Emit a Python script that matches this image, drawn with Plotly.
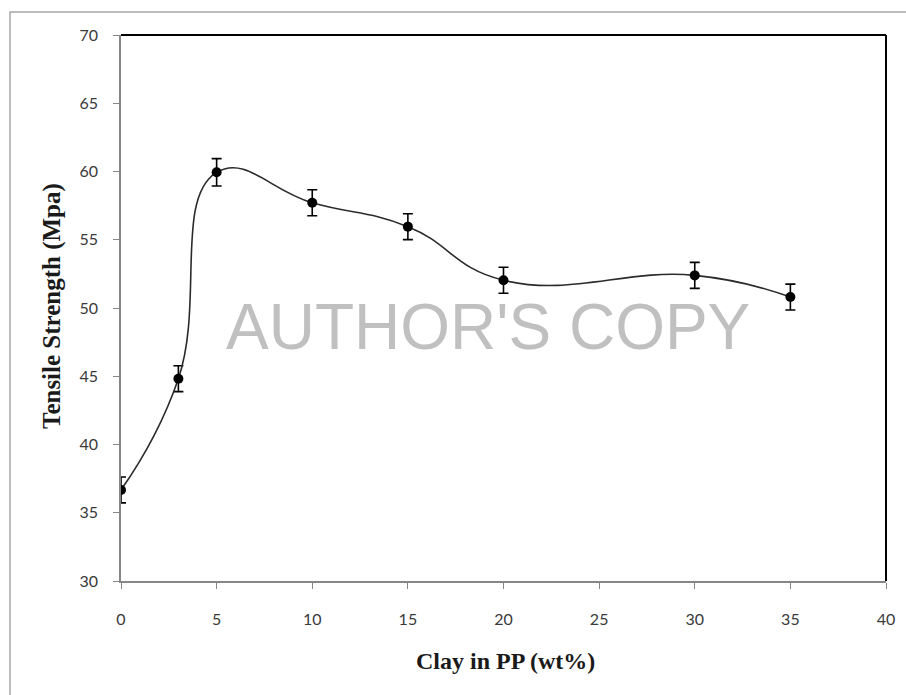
import plotly.graph_objects as go

clay_wt = [0, 3, 5, 10, 15, 20, 30, 35]
tensile_mpa = [36.67, 44.82, 59.94, 57.71, 55.96, 52.03, 52.39, 50.80]
tensile_err = [0.95, 0.95, 1.0, 0.95, 0.95, 0.95, 0.95, 0.95]

x_ticks = [0, 5, 10, 15, 20, 25, 30, 35, 40]
y_ticks = [30, 35, 40, 45, 50, 55, 60, 65, 70]

W, H = 906, 695
L, R, T, B = 121, 886, 35, 581

def px(x):
    return (x - L) / (R - L)

def py(y):
    return (B - y) / (B - T)

fig = go.Figure()
fig.add_trace(go.Scatter(
    x=clay_wt, y=tensile_mpa,
    mode="lines+markers",
    line=dict(color="#2b2b2b", width=1.6, shape="spline", smoothing=1.3),
    marker=dict(color="black", size=10),
    error_y=dict(type="data", array=tensile_err, visible=True,
                 color="black", thickness=1.6, width=5),
    showlegend=False,
))

tickfont = dict(family="Lato, Carlito, Open Sans, sans-serif", size=16, color="#3a3a3a")
fig.update_xaxes(range=[0, 40], tickvals=x_ticks, ticktext=[str(v) for v in x_ticks],
                 showgrid=False, zeroline=False, showline=True, linecolor="#868686", linewidth=1.5,
                 ticks="outside", ticklen=6, tickcolor="#868686", tickwidth=1.2,
                 tickfont=tickfont, ticklabelstandoff=17)
fig.update_yaxes(range=[30, 70], tickvals=y_ticks, ticktext=[str(v) for v in y_ticks],
                 showgrid=False, zeroline=False, showline=True, linecolor="#868686", linewidth=1.5,
                 ticks="outside", ticklen=6, tickcolor="#868686", tickwidth=1.2,
                 tickfont=tickfont, ticklabelstandoff=12)

shapes = [
    # outer frame
    dict(type="rect", xref="paper", yref="paper",
         x0=px(10), x1=px(915), y0=py(720), y1=py(12),
         line=dict(color="#a6a6a6", width=1.5), layer="below"),
    # top and right plot border (black)
    dict(type="line", xref="paper", yref="paper", x0=0, x1=1, y0=1, y1=1,
         line=dict(color="black", width=2)),
    dict(type="line", xref="paper", yref="paper", x0=1, x1=1, y0=0, y1=1,
         line=dict(color="black", width=2)),
]

title_font = dict(family="Liberation Serif, Times New Roman, serif", size=24, color="#1a1a1a")
annotations = [
    dict(text="<b>Clay in PP (wt%)</b>", xref="paper", yref="paper",
         x=px(505), y=py(661), showarrow=False, font=title_font,
         xanchor="center", yanchor="middle"),
    dict(text="<b>Tensile Strength (Mpa)</b>", xref="paper", yref="paper",
         x=px(52), y=py(306), showarrow=False,
         font=dict(family="Liberation Serif, Times New Roman, serif", size=25, color="#1a1a1a"),
         textangle=-90, xanchor="center", yanchor="middle"),
    dict(text="AUTHOR'S COPY", xref="paper", yref="paper",
         x=px(487.5), y=py(327), showarrow=False,
         font=dict(family="Liberation Sans, Arial, sans-serif", size=64, color="#c0c0c0"),
         xanchor="center", yanchor="middle"),
]

fig.update_layout(
    width=W, height=H,
    margin=dict(l=L, r=W - R, t=T, b=H - B, pad=0),
    paper_bgcolor="white", plot_bgcolor="white",
    shapes=shapes, annotations=annotations,
)

fig.write_html("out.html")
